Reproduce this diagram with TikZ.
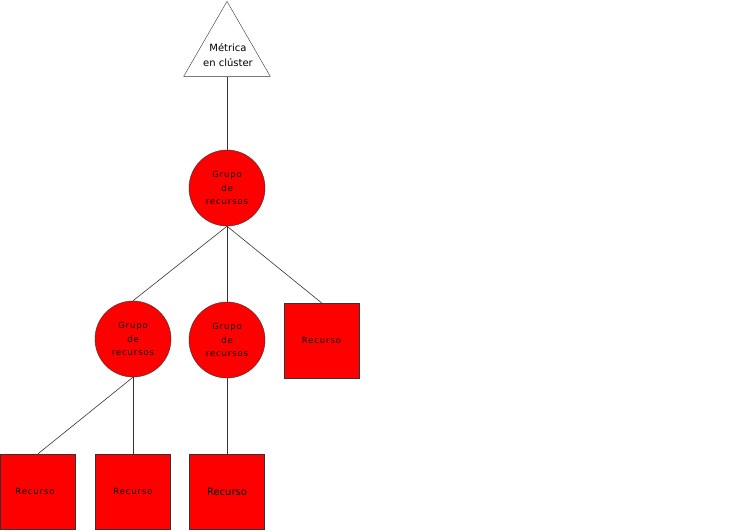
\documentclass[tikz,border=0pt]{standalone}
\usepackage{fontspec}
\setmainfont{DejaVu Sans}
\newfontfamily\spaced[LetterSpace=10]{DejaVu Sans}
\usetikzlibrary{shapes.geometric}
\begin{document}
\begin{tikzpicture}[x=1pt,y=-1pt,
  grp/.style={circle,draw=black!80,fill=red,minimum size=76pt,inner sep=0pt,align=center,font=\spaced\fontsize{8.5}{13.5}\selectfont},
  res/.style={rectangle,draw=black!80,fill=red,minimum size=75pt,inner sep=0pt,font=\spaced\fontsize{8.5}{9}\selectfont},
  link/.style={draw=black!80,line width=0.6pt}]
\useasboundingbox (0,0) rectangle (745,531);
\node[isosceles triangle,isosceles triangle apex angle=60,shape border rotate=90,draw=black!80,fill=white,minimum height=75pt,inner sep=0pt,anchor=apex] (m) at (227,1) {};
\node[align=center,font=\fontsize{10}{15}\selectfont] (mt) at (228,55) {Métrica\\en clúster};
\node[grp] (g0) at (227,188) {Grupo\\de\\recursos};
\node[grp] (g1) at (133,339) {Grupo\\de\\recursos};
\node[grp] (g2) at (227,340) {Grupo\\de\\recursos};
\node[res] (r0) at (321.5,340.5) {Recurso};
\node[res] (r1) at (38,491.5) {\makebox[0pt]{\hspace*{-6pt}Recurso}};
\node[res] (r2) at (133,491.5) {Recurso};
\node[res,font=\fontsize{10}{9}\selectfont] (r3) at (227,491.5) {Recurso};
\draw[link] (m.south) -- (g0.north);
\draw[link] (g0.south) -- (g1.north);
\draw[link] (g0.south) -- (g2.north);
\draw[link] (g0.south) -- (r0.north);
\draw[link] (g1.south) -- (r1.north);
\draw[link] (g1.south) -- (r2.north);
\draw[link] (g2.south) -- (r3.north);
\end{tikzpicture}
\end{document}
